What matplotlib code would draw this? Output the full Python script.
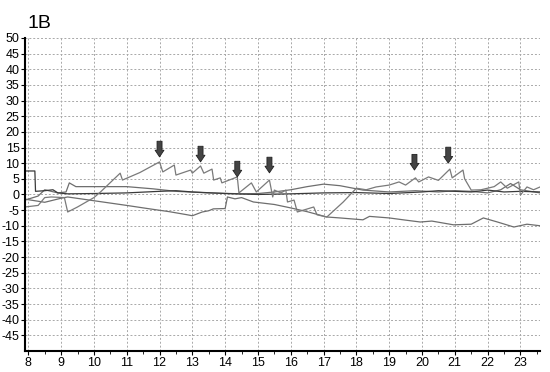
import matplotlib
matplotlib.use("Agg")
import matplotlib.pyplot as plt
from matplotlib.ticker import MultipleLocator

plt.rcParams['font.family'] = ['Liberation Sans', 'DejaVu Sans']
plt.rcParams['axes.unicode_minus'] = False

# trace with the arrows (sawtooth)
saw_x = [7.9, 8.3, 8.5, 8.7, 9.1, 9.2, 9.5, 10.0, 10.2, 10.8, 10.87, 11.4,
         12.0, 12.1, 12.45, 12.5, 12.95, 13.0, 13.25, 13.35, 13.6, 13.65, 13.85,
         13.9, 14.37, 14.42, 14.8, 14.95, 15.35, 15.45, 15.5, 15.7, 15.85, 15.9,
         16.1, 16.2, 16.7, 16.8, 17.1, 17.6, 18.0, 18.3, 18.6, 19.0, 19.3, 19.5,
         19.8, 19.9, 20.2, 20.5, 20.85, 20.92, 21.25, 21.3, 21.5, 21.8, 22.2,
         22.4, 22.6, 22.95, 23.0, 23.2, 23.4, 23.6]
saw_y = [-4.0, -3.5, -1.0, -0.8, -1.0, -5.6, -4.0, -1.0, 0.8, 6.8, 4.6, 7.0,
         10.4, 7.2, 9.4, 6.2, 7.8, 6.8, 9.1, 6.8, 8.1, 4.6, 5.3, 3.7, 5.6, 0.5,
         3.7, 0.8, 4.6, -0.8, 1.4, 0.5, 1.4, -2.4, -1.8, -5.6, -4.0, -6.5, -7.2,
         -2.4, 2.0, 1.5, 2.4, 3.0, 4.0, 3.0, 5.3, 4.0, 5.6, 4.5, 8.1, 5.3, 7.8,
         5.0, 1.4, 1.5, 2.5, 4.0, 2.0, 4.0, -0.2, 2.4, 1.5, 2.4]

# slowly falling trace
low_x = [7.9, 8.5, 9.0, 9.2, 10.0, 11.0, 11.7, 12.3, 12.85, 13.0, 13.3, 13.5,
         13.64, 14.0, 14.07, 14.3, 14.5, 14.86, 15.5, 16.0, 16.5, 17.1, 17.5,
         18.2, 18.4, 19.0, 19.5, 19.95, 20.3, 20.96, 21.5, 21.87, 22.3, 22.8,
         23.2, 23.6]
low_y = [-1.5, -2.5, -1.2, -0.8, -2.0, -3.5, -4.6, -5.5, -6.5, -6.8, -5.6, -5.2,
         -4.6, -4.5, -0.8, -1.4, -1.0, -2.4, -3.2, -4.3, -5.5, -7.2, -7.5, -8.1,
         -7.0, -7.5, -8.2, -8.8, -8.5, -9.7, -9.5, -7.5, -8.8, -10.4, -9.5, -10.0]

# upper trace near zero
up_x = [7.9, 8.3, 8.5, 8.7, 8.9, 9.15, 9.25, 9.45, 10.0, 11.0, 11.8, 12.5,
        13.5, 14.5, 15.0, 15.5, 16.0, 16.5, 17.0, 17.5, 18.2, 19.0, 19.8,
        20.5, 21.0, 21.5, 22.0, 22.4, 22.7, 23.0, 23.3, 23.6]
up_y = [-1.8, -0.5, 1.5, 1.0, 0.5, 0.8, 3.7, 2.5, 2.5, 2.5, 1.8, 1.0, 0.5,
        0.2, 0.3, 0.8, 1.5, 2.5, 3.3, 2.8, 1.4, 0.8, 1.2, 0.8, 1.2, 1.0,
        0.5, 1.5, 3.5, 1.5, 1.0, 0.5]

# flat trace along zero
zero_x = [7.9, 8.2, 8.22, 8.5, 8.75, 8.9, 9.2, 10.0, 11.0, 12.0, 12.5, 13.0,
          14.0, 15.0, 16.0, 17.0, 18.0, 19.0, 20.0, 20.5, 21.0, 21.5, 22.0,
          22.5, 23.0, 23.6]
zero_y = [7.5, 7.5, 1.0, 1.2, 1.5, 0.5, 0.2, 0.3, 0.5, 1.0, 1.2, 0.8, 0.3, 0.0,
          0.2, 0.5, 0.6, 0.3, 0.8, 1.2, 1.0, 0.8, 1.4, 0.8, 1.0, 0.8]

# arrows: x, tip, tail
arrow_x = [12.0, 13.25, 14.37, 15.35, 19.77, 20.8]
arrow_tip = [12.0, 10.4, 5.6, 6.9, 7.8, 10.0]
arrow_tail = [17.0, 15.4, 10.6, 11.9, 12.8, 15.1]

fig = plt.figure(figsize=(5.5, 3.72), dpi=100)
ax = fig.add_axes([0.0455, 0.0565, 0.9365, 0.8415])

ax.plot(low_x, low_y, color='#6e6e6e', lw=0.9)
ax.plot(up_x, up_y, color='#6e6e6e', lw=0.9)
ax.plot(zero_x, zero_y, color='#3a3a3a', lw=0.9)
ax.plot(saw_x, saw_y, color='#7a7a7a', lw=0.9)

for x, t, s in zip(arrow_x, arrow_tip, arrow_tail):
    ax.annotate('', xy=(x, t), xytext=(x, s),
                arrowprops=dict(arrowstyle='simple,head_width=0.8,head_length=0.6,tail_width=0.45',
                                fc='#444444', ec='#222222', lw=0.6, shrinkA=0, shrinkB=0,
                                mutation_scale=8))

ax.set_xlim(7.9, 23.6)
ax.set_ylim(-50, 50)
ax.set_xticks(range(8, 24))
ax.set_yticks(range(-45, 51, 5))
ax.xaxis.set_minor_locator(MultipleLocator(0.5))
ax.tick_params(axis='both', labelsize=9, length=3, width=0.8, pad=1)
ax.tick_params(axis='x', which='minor', length=2, width=0.6)
ax.grid(True, color='#a8a8a8', ls=(0, (2, 2)), lw=0.7)

for side in ['top', 'right']:
    ax.spines[side].set_visible(False)
ax.spines['left'].set_linewidth(1.5)
ax.spines['bottom'].set_linewidth(1.5)

fig.text(0.05, 0.925, '1B', fontsize=14)

fig.savefig('out.png', dpi=100)
